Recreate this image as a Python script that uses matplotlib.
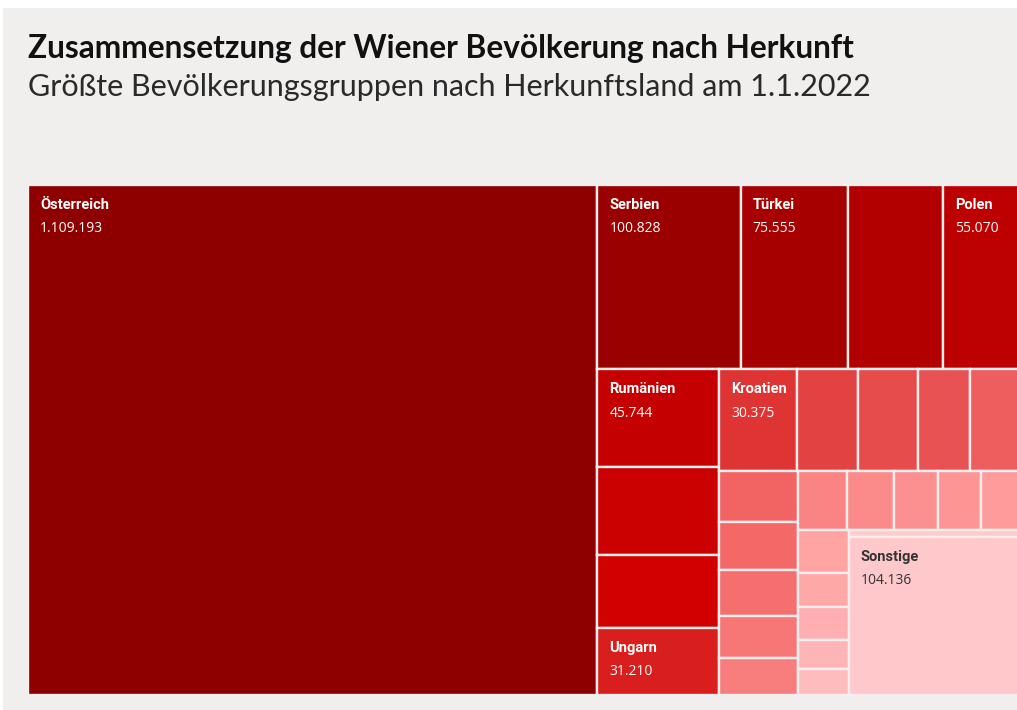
import matplotlib
matplotlib.use("Agg")
import matplotlib.pyplot as plt
from matplotlib.patches import Rectangle

# population by country of origin, Vienna 1.1.2022 (order as in the treemap)
# only some tiles carry a label in the original chart, the rest stay unnamed
labels = ["Österreich", "Serbien", "Türkei", None, "Polen",
          "Rumänien", None, None, "Ungarn",
          "Kroatien", None, None, None, None,
          None, None, None, None, None,
          None, None, None, None, None,
          None, None, None, None, None,
          None, "Sonstige"]
values = [1109193, 100828, 75555, 66500, 55070,
          45744, 40600, 34100, 31210,
          30375, 23800, 23500, 20520, 19740,
          15400, 14400, 14100, 12600, 11200,
          10910, 10690, 10010, 9560, 9110,
          8090, 6550, 6360, 5680, 4910,
          4300, 104136]

colors = ["#8e0000", "#9b0000", "#a70000", "#b20000", "#bc0000",
          "#c40000", "#cb0000", "#d30000", "#d91e1e",
          "#de3434", "#e24242", "#e64c4c", "#e95252", "#ee5e5e",
          "#f26464", "#f46868", "#f56f6f", "#f77777", "#f87e7e",
          "#fa8484", "#fb8a8a", "#fc9090", "#fd9595", "#fe9b9b",
          "#ffa3a3", "#ffa8a8", "#ffafaf", "#ffb5b5", "#ffbcbc",
          "#ffcbcd", "#ffc9cc"]

PHI = (1 + 5 ** 0.5) / 2


def squarify(vals, x0, y0, x1, y1, ratio=PHI):
    # same row logic as d3.treemapSquarify, y grows downward
    rects = [None] * len(vals)
    total = float(sum(vals))
    i0 = i1 = 0
    n = len(vals)
    while i0 < n:
        dx, dy = x1 - x0, y1 - y0
        s = vals[i1]
        i1 += 1
        vmin = vmax = s
        alpha = max(dy / dx, dx / dy) / (total * ratio)
        beta = s * s * alpha
        best = max(vmax / beta, beta / vmin)
        while i1 < n:
            v = vals[i1]
            s2 = s + v
            mn, mx = min(vmin, v), max(vmax, v)
            beta = s2 * s2 * alpha
            r = max(mx / beta, beta / mn)
            if r > best:
                break
            s, vmin, vmax, best = s2, mn, mx, r
            i1 += 1
        if dx < dy:
            h = dy * s / total
            xx = x0
            for k in range(i0, i1):
                w = dx * vals[k] / s
                rects[k] = (xx, y0, w, h)
                xx += w
            y0 += h
        else:
            w = dx * s / total
            yy = y0
            for k in range(i0, i1):
                h = dy * vals[k] / s
                rects[k] = (x0, yy, w, h)
                yy += h
            x0 += w
        total -= s
        i0 = i1
    return rects


fig = plt.figure(figsize=(10.17, 7.10), dpi=100)
fig.patch.set_facecolor("white")
fig.patches.append(Rectangle((3 / 1017, 0), 1, 1 - 8 / 710, transform=fig.transFigure,
                             facecolor="#f0efed", edgecolor="none", zorder=-5))

fig.text(28 / 1017, 1 - 58 / 710, "Zusammensetzung der Wiener Bevölkerung nach Herkunft",
         fontsize=22.8, fontweight="bold", family="Lato", color="#111111", va="baseline")
fig.text(28 / 1017, 1 - 96 / 710, "Größte Bevölkerungsgruppen nach Herkunftsland am 1.1.2022",
         fontsize=22, fontweight="normal", family="Lato", color="#2a2a2a", va="baseline")

# treemap area runs a bit past the right edge of the picture
W, H = 993, 510
ax = fig.add_axes([28 / 1017, 15 / 710, W / 1017, H / 710], zorder=2)
ax.set_xlim(0, W)
ax.set_ylim(H, 0)
ax.axis("off")

rects = squarify(values, 0, 0, W, H)
for lab, val, col, (x, y, w, h) in zip(labels, values, colors, rects):
    ax.add_patch(Rectangle((x, y), w, h, facecolor=col, edgecolor="#f5eeee",
                           linewidth=1.7, clip_on=False))
    if lab:
        tc = "#333333" if lab == "Sonstige" else "white"
        ax.text(x + 12, y + 20, lab, fontsize=10.5, fontweight="bold", family="Roboto",
                color=tc, va="center", ha="left")
        ax.text(x + 12, y + 44, f"{val:,}".replace(",", "."), fontsize=10, family="Open Sans",
                color=tc, va="center", ha="left")

fig.savefig("out.png", dpi=100, facecolor=fig.get_facecolor())
